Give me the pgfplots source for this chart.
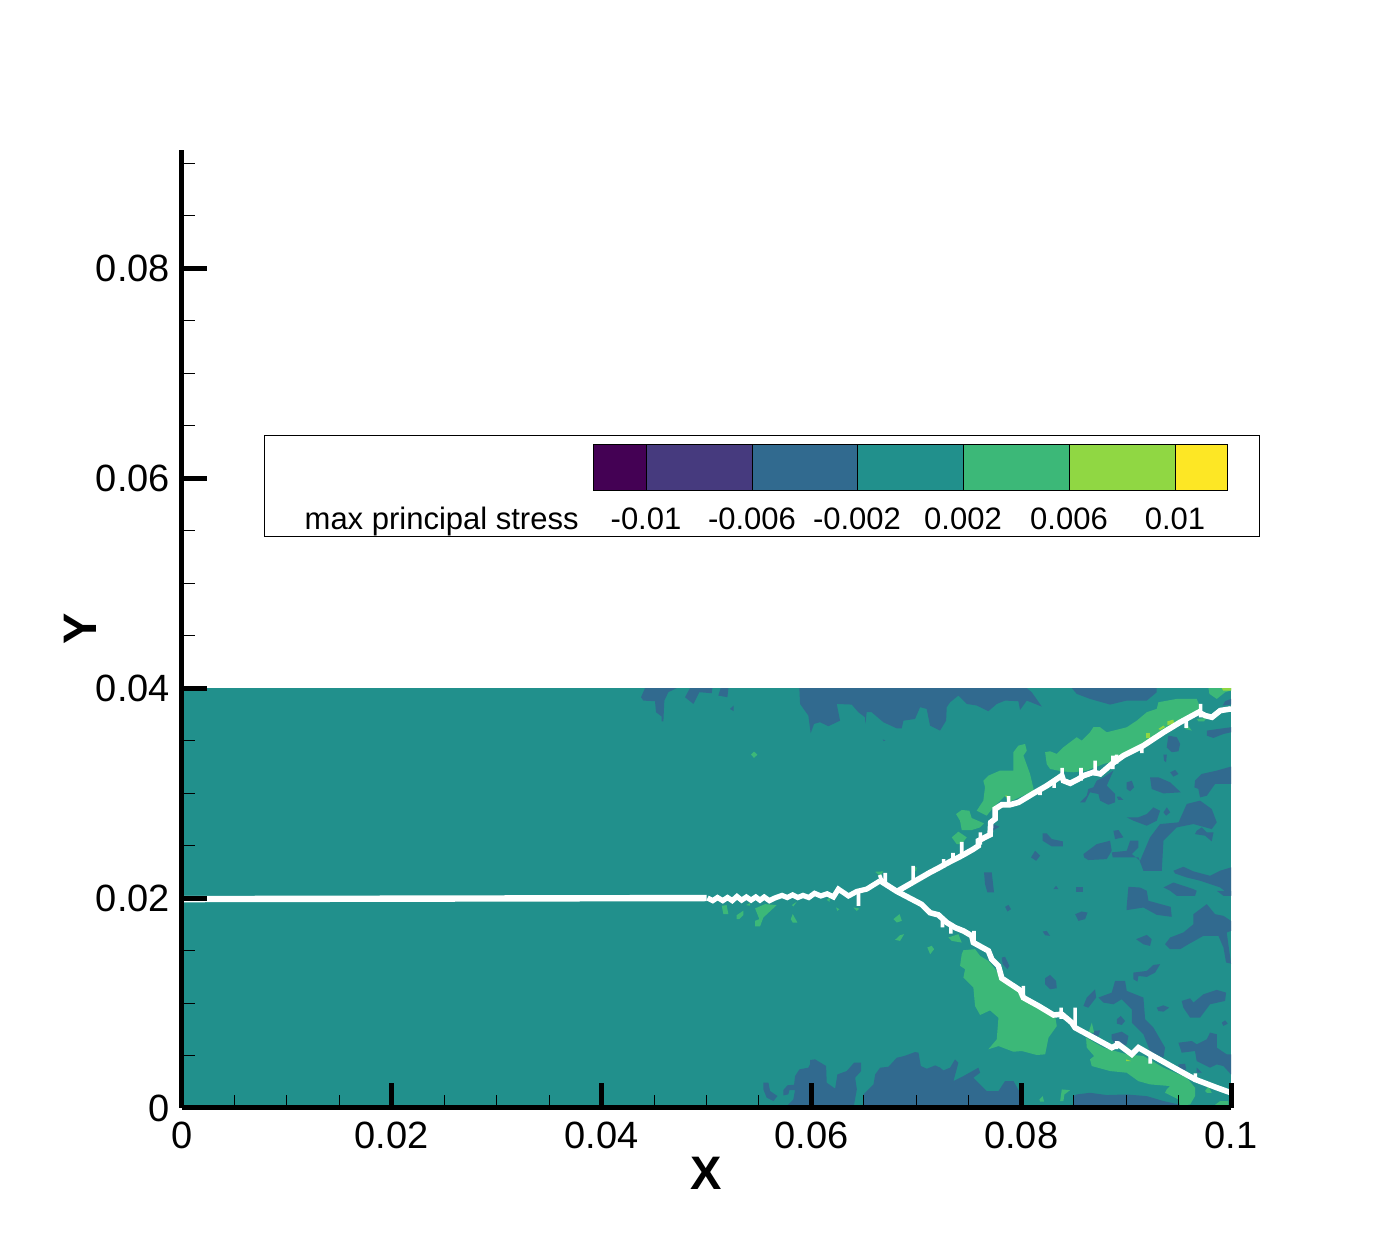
\documentclass[border=0pt]{standalone}
\usepackage{fontspec}
\setmainfont{Liberation Sans}
\usepackage{pgfplots}
\pgfplotsset{compat=1.18}
\definecolor{cPurple}{HTML}{440154}
\definecolor{cIndigo}{HTML}{463A7E}
\definecolor{cBlue}{HTML}{316A8F}
\definecolor{cTeal}{HTML}{21908C}
\definecolor{cGreen}{HTML}{3CB878}
\definecolor{cLime}{HTML}{90D743}
\definecolor{cYellow}{HTML}{FDE725}
\pgfplotsset{
  bl/.style={fill=cBlue,draw=none,forget plot},
  gr/.style={fill=cGreen,draw=none,forget plot},
  li/.style={fill=cLime,draw=none,forget plot},
}
\begin{document}
\begin{tikzpicture}
\path[use as bounding box] (-91pt,-68.5pt) rectangle (609pt,554pt);
\begin{axis}[
  at={(0,0)},anchor=south west,scale only axis,width=524.5pt,height=479pt,
  xmin=0,xmax=0.1,ymin=0,ymax=0.09126,
  axis x line*=bottom,axis y line*=left,
  axis line style={line width=2.5pt,-},
  axis on top,
  scaled ticks=false,
  xtick={0,0.02,0.04,0.06,0.08,0.1},xticklabels={0,0.02,0.04,0.06,0.08,0.1},
  ytick={0,0.02,0.04,0.06,0.08},yticklabels={0,0.02,0.04,0.06,0.08},
  minor xtick={0.005,0.01,0.015,0.025,0.03,0.035,0.045,0.05,0.055,0.065,0.07,0.075,0.085,0.09,0.095},
  minor ytick={0.005,0.01,0.015,0.025,0.03,0.035,0.045,0.05,0.055,0.065,0.07,0.075,0.085,0.09},
  tick align=inside,
  major tick length=12.5pt,minor tick length=6.5pt,
  major tick style={line width=2.5pt,black},
  minor tick style={line width=0.5pt,black},
  xticklabel style={font=\fontsize{19}{20}\selectfont,yshift=-3.5pt},
  yticklabel style={font=\fontsize{19}{20}\selectfont,xshift=-2.5pt},
  xlabel={X},ylabel={Y},
  xlabel style={font=\fontsize{23.5}{26}\bfseries\selectfont,yshift=3pt},
  ylabel style={font=\fontsize{23.5}{26}\bfseries\selectfont,yshift=-7pt},
  unbounded coords=jump,
]
% background field
\addplot[fill=cTeal,draw=none,forget plot] coordinates {(0,0)(0.1,0)(0.1,0.04)(0,0.04)};
% negative-stress patches, top edge
\addplot[bl] coordinates {(0.04414,0.04)(0.04376,0.03913)(0.04398,0.03881)(0.04509,0.03875)(0.04519,0.0377)(0.04573,0.03729)(0.04573,0.03684)(0.04589,0.03684)(0.04598,0.03881)(0.04636,0.03961)(0.04716,0.04)};
\addplot[bl] coordinates {(0.04843,0.04)(0.04795,0.03913)(0.04875,0.03849)(0.04932,0.03961)(0.0505,0.03951)(0.05056,0.04)};
\addplot[bl] coordinates {(0.05135,0.04)(0.05113,0.03929)(0.05199,0.03913)(0.05209,0.04)};
\addplot[bl] coordinates {(0.05224,0.03802)(0.05259,0.03834)(0.05259,0.0378)};
\addplot[bl] coordinates {(0.05885,0.04)(0.05892,0.03849)(0.05971,0.03738)(0.05993,0.0357)(0.06025,0.03659)(0.06082,0.03675)(0.06162,0.03637)(0.06273,0.0369)(0.06241,0.03849)(0.06384,0.03843)(0.06448,0.0377)(0.06511,0.03722)(0.06514,0.03659)(0.06527,0.0377)(0.06575,0.0377)(0.06686,0.03675)(0.06813,0.03617)(0.06861,0.03617)(0.06877,0.0369)(0.06988,0.03706)(0.07036,0.03818)(0.07099,0.03802)(0.07131,0.03643)(0.07226,0.03595)(0.07284,0.0369)(0.0729,0.03818)(0.07322,0.03865)(0.07401,0.03929)(0.07481,0.03849)(0.07576,0.03834)(0.07687,0.0378)(0.07767,0.03849)(0.07846,0.03881)(0.07973,0.03875)(0.07989,0.03792)(0.08053,0.03881)(0.08196,0.03824)(0.081,0.03961)(0.08053,0.04)};
\addplot[bl] coordinates {(0.0668,0.03510)(0.06705,0.03503)(0.0669,0.03495)};
\addplot[bl] coordinates {(0.08482,0.04)(0.08529,0.03945)(0.08656,0.03897)(0.08847,0.03843)(0.09006,0.03881)(0.09197,0.03881)(0.09292,0.03961)(0.09292,0.04)};
\addplot[bl] coordinates {(0.09921,0.03834)(0.09944,0.03875)(0.1,0.03897)(0.1,0.03843)};
% patches below the upper crack
\addplot[bl] coordinates {(0.07728,0.02705)(0.07792,0.0268)(0.07728,0.02641)};
\addplot[bl] coordinates {(0.08205,0.02616)(0.08243,0.02616)(0.08291,0.02562)(0.08396,0.0254)(0.08396,0.02492)(0.08291,0.02492)(0.08205,0.02546)};
\addplot[bl] coordinates {(0.08132,0.0245)(0.0818,0.02403)(0.08142,0.02355)(0.08094,0.02387)};
\addplot[bl] coordinates {(0.07646,0.02244)(0.07719,0.02244)(0.07741,0.02053)(0.07678,0.02053)(0.07655,0.02133)};
\addplot[bl] coordinates {(0.08307,0.02085)(0.08355,0.02085)(0.08332,0.02117)};
\addplot[bl] coordinates {(0.08523,0.02107)(0.08587,0.02107)(0.08587,0.02053)(0.08523,0.02053)};
\addplot[bl] coordinates {(0.08593,0.02419)(0.0872,0.02514)(0.08847,0.02546)(0.08863,0.0245)(0.08815,0.02371)(0.0864,0.02362)(0.086,0.02387)};
\addplot[bl] coordinates {(0.08863,0.02435)(0.09006,0.0245)(0.09038,0.02546)(0.09117,0.02546)(0.09117,0.02482)(0.09054,0.02419)(0.09133,0.02355)(0.09228,0.02578)(0.09324,0.02705)(0.095,0.02721)(0.09578,0.02896)(0.09705,0.02928)(0.09816,0.02848)(0.09864,0.02721)(0.09816,0.02657)(0.09642,0.02705)(0.09483,0.02673)(0.09356,0.02546)(0.0934,0.0226)(0.09165,0.0226)(0.09117,0.02387)(0.09038,0.02387)(0.08873,0.02387)};
\addplot[bl] coordinates {(0.09006,0.02769)(0.09117,0.02769)(0.09197,0.028)(0.0926,0.02864)(0.09324,0.02832)(0.09292,0.02737)(0.09197,0.02689)(0.0907,0.02737)};
\addplot[bl] coordinates {(0.09356,0.02816)(0.09388,0.02864)(0.0942,0.02816)(0.09381,0.02785)};
\addplot[bl] coordinates {(0.08879,0.02641)(0.08927,0.02648)(0.08974,0.02578)(0.08895,0.02562)};
\addplot[bl] coordinates {(0.09673,0.02641)(0.09721,0.02673)(0.09769,0.02625)(0.09833,0.02625)(0.09816,0.0254)(0.09753,0.02594)(0.09657,0.02609)};
\addplot[bl] coordinates {(0.09228,0.0315)(0.09308,0.0315)(0.0942,0.03102)(0.09521,0.03007)(0.09356,0.02997)(0.09244,0.03039)};
\addplot[bl] coordinates {(0.09006,0.03102)(0.09054,0.03118)(0.09076,0.03055)(0.09038,0.03017)(0.09006,0.03039)};
\addplot[bl] coordinates {(0.09657,0.03118)(0.09721,0.03182)(0.09864,0.03214)(0.1,0.03252)(0.1,0.03087)(0.09848,0.03087)(0.09769,0.02975)(0.09705,0.02959)(0.09689,0.03039)(0.09651,0.03055)};
\addplot[bl] coordinates {(0.0942,0.03198)(0.09467,0.0322)(0.09499,0.03182)(0.09451,0.03156)};
\addplot[bl] coordinates {(0.09769,0.03595)(0.0988,0.03611)(0.1,0.03627)(0.1,0.03579)(0.09928,0.03563)(0.09832,0.03525)(0.09769,0.03547)};
\addplot[bl] coordinates {(0.09403,0.03547)(0.09483,0.03532)(0.09515,0.03468)(0.09499,0.03398)(0.09435,0.03389)(0.09387,0.03436)};
\addplot[bl] coordinates {(0.09356,0.03366)(0.09388,0.03366)(0.09381,0.03293)(0.09362,0.03309)};
\addplot[bl] coordinates {(0.08688,0.03055)(0.0872,0.03118)(0.08784,0.0315)(0.08879,0.03214)(0.08815,0.03071)(0.08895,0.02991)(0.08895,0.02912)(0.08831,0.02889)(0.08752,0.02928)(0.08736,0.02991)(0.08656,0.03007)(0.08609,0.02912)(0.08561,0.02912)(0.08625,0.02975)(0.0864,0.03039)};
\addplot[bl] coordinates {(0.08911,0.02966)(0.08943,0.02966)(0.08974,0.02934)(0.08927,0.02934)};
\addplot[bl] coordinates {(0.09451,0.02260)(0.09546,0.02298)(0.09642,0.02254)(0.098,0.02212)(0.09896,0.0226)(0.1,0.02292)(0.1,0.02022)(0.09896,0.02101)(0.09705,0.02165)(0.09578,0.02196)(0.09467,0.02234)};
\addplot[bl] coordinates {(0.09022,0.02107)(0.09133,0.021)(0.09197,0.02069)(0.09213,0.01974)(0.09425,0.01916)(0.09435,0.01821)(0.09292,0.0184)(0.09165,0.0191)(0.09006,0.01885)(0.09006,0.01926)};
\addplot[bl] coordinates {(0.09356,0.02101)(0.09451,0.02148)(0.09642,0.02085)(0.09673,0.02069)(0.09657,0.02021)(0.09483,0.02021)(0.0942,0.02069)};
\addplot[bl] coordinates {(0.09864,0.02069)(0.09928,0.02021)(0.1,0.02021)(0.1,0.02069)};
% patches above the lower crack
\addplot[bl] coordinates {(0.09371,0.0156)(0.0942,0.01624)(0.09546,0.01672)(0.09642,0.01751)(0.09642,0.01846)(0.09769,0.01942)(0.09848,0.01846)(0.09928,0.0183)(0.1,0.01783)(0.1,0.01687)(0.09959,0.01672)(0.1,0.01376)(0.09953,0.01386)(0.09928,0.01529)(0.0988,0.0164)(0.09737,0.0164)(0.09594,0.0156)(0.09515,0.01513)(0.0942,0.01513)};
\addplot[bl] coordinates {(0.08514,0.01846)(0.08577,0.01872)(0.08632,0.01862)(0.08609,0.01799)(0.08546,0.01783)};
\addplot[bl] coordinates {(0.07846,0.01916)(0.07878,0.01935)(0.07903,0.01894)(0.07869,0.01872)};
\addplot[bl] coordinates {(0.08205,0.01681)(0.08243,0.01687)(0.08275,0.0164)(0.08228,0.01646)};
\addplot[bl] coordinates {(0.09095,0.01608)(0.09197,0.01649)(0.09244,0.01608)(0.09228,0.01544)(0.09165,0.0156)};
\addplot[bl] coordinates {(0.07814,0.01433)(0.07846,0.0144)(0.07887,0.01354)(0.07869,0.01322)(0.07824,0.0137)};
\addplot[bl] coordinates {(0.08228,0.01236)(0.08275,0.01268)(0.08332,0.01211)(0.08339,0.01141)(0.08275,0.01131)(0.08228,0.01179)};
\addplot[bl] coordinates {(0.0907,0.0129)(0.09197,0.01306)(0.0926,0.01363)(0.09324,0.0137)(0.09276,0.0129)(0.09197,0.01249)(0.09117,0.01258)(0.09108,0.01204)(0.0907,0.01227)};
\addplot[bl] coordinates {(0.08736,0.01052)(0.08863,0.01099)(0.08895,0.01211)(0.0899,0.01211)(0.09006,0.01115)(0.09165,0.01052)(0.09181,0.00845)(0.0926,0.00766)(0.09371,0.00575)(0.09356,0.00479)(0.09228,0.00543)(0.09165,0.00702)(0.09054,0.00813)(0.09054,0.0094)(0.08958,0.01036)(0.08879,0.00988)(0.08784,0.01004)};
\addplot[bl] coordinates {(0.08625,0.01052)(0.08704,0.01131)(0.08714,0.01052)(0.0864,0.00956)(0.08593,0.00972)};
\addplot[bl] coordinates {(0.09292,0.00956)(0.09356,0.00978)(0.0941,0.00956)(0.09356,0.00918)(0.09308,0.00924)};
\addplot[bl] coordinates {(0.0953,0.0102)(0.0961,0.01045)(0.09642,0.01004)(0.09737,0.01083)(0.09864,0.01125)(0.09953,0.01099)(0.09943,0.0102)(0.098,0.00988)(0.09705,0.00861)(0.0961,0.00861)(0.09546,0.00956)};
\addplot[bl] coordinates {(0.08911,0.00845)(0.08949,0.00877)(0.0899,0.00829)(0.08958,0.00791)(0.08911,0.00804)};
\addplot[bl] coordinates {(0.09912,0.00813)(0.09944,0.00835)(0.09969,0.00804)(0.09928,0.00782)};
\addplot[bl] coordinates {(0.08863,0.00702)(0.08958,0.00727)(0.09022,0.00686)(0.09006,0.00607)(0.08927,0.00575)(0.08895,0.00613)(0.08863,0.00654)};
\addplot[bl] coordinates {(0.09499,0.00622)(0.09626,0.00638)(0.09673,0.00607)(0.09769,0.00654)(0.098,0.00718)(0.09864,0.00702)(0.09864,0.00575)(0.09959,0.00511)(0.1,0.00511)(0.1,0.0032)(0.09928,0.00399)(0.09864,0.00415)(0.098,0.00384)(0.09673,0.00447)(0.09657,0.00543)(0.0953,0.00527)};
\addplot[bl] coordinates {(0.09499,0.00415)(0.09562,0.00422)(0.09573,0.00368)(0.09515,0.00352)};
\addplot[bl] coordinates {(0.09673,0.00384)(0.09721,0.00336)(0.09673,0.00336)};
\addplot[bl] coordinates {(0.08688,0.00734)(0.08752,0.0074)(0.08736,0.00686)(0.08688,0.00696)};
% bottom edge
\addplot[bl] coordinates {(0.08498,0.00)(0.08498,0.00113)(0.08529,0.00129)(0.08656,0.00145)(0.08815,0.00123)(0.09006,0.00129)(0.09197,0.00113)(0.09356,0.00066)(0.09499,0.00034)(0.09515,0)};
\addplot[bl] coordinates {(0.06496,0)(0.06496,0.0013)(0.06592,0.00225)(0.06608,0.0032)(0.06655,0.00384)(0.06735,0.00393)(0.06814,0.00479)(0.06884,0.00495)(0.06989,0.00533)(0.07021,0.00527)(0.07043,0.004)(0.071,0.00374)(0.0718,0.00406)(0.07228,0.00384)(0.07258,0.00358)(0.07322,0.00384)(0.07369,0.00463)(0.07401,0.00431)(0.07354,0.00256)(0.07449,0.00304)(0.07592,0.00384)(0.07608,0.00336)(0.07544,0.00288)(0.07671,0.00161)(0.07783,0.00161)(0.07846,0.00256)(0.07926,0.00256)(0.07989,0.00145)(0.07983,0)};
\addplot[bl] coordinates {(0.05749,0)(0.05828,0.00082)(0.05844,0.00171)(0.0579,0.00171)(0.0578,0.0013)(0.05733,0.0012)(0.05733,0.00171)(0.05771,0.00216)(0.05835,0.00222)(0.05844,0.00304)(0.05886,0.00368)(0.05971,0.00384)(0.05987,0.00416)(0.05987,0.00457)(0.06035,0.00463)(0.0614,0.004)(0.06146,0.00241)(0.06226,0.00184)(0.06248,0.0032)(0.06337,0.00352)(0.06407,0.00432)(0.06474,0.00432)(0.06474,0.00352)(0.06417,0.00289)(0.06433,0.00178)(0.06401,0)};
\addplot[bl] coordinates {(0.05542,0.00241)(0.0559,0.00241)(0.05606,0.00162)(0.05676,0.00114)(0.05638,0.00066)(0.05574,0.00098)(0.05542,0.00178)};
% positive-stress patches
\addplot[gr] coordinates {(0.09785,0.04)(0.09794,0.03945)(0.09864,0.03897)(0.09944,0.03961)(0.1,0.03977)(0.1,0.04)};
\addplot[gr] coordinates {(0.08228,0.03389)(0.08275,0.03398)(0.08339,0.03373)(0.08402,0.03436)(0.08529,0.03532)(0.08577,0.035)(0.08656,0.03579)(0.08688,0.03627)(0.08752,0.03627)(0.08815,0.03579)(0.09006,0.03627)(0.09102,0.0369)(0.09197,0.0377)(0.09292,0.03802)(0.09308,0.03865)(0.09483,0.03897)(0.09673,0.03897)(0.09705,0.03818)(0.09683,0.0378)(0.09356,0.03563)(0.09102,0.0342)(0.08911,0.03309)(0.08784,0.03277)(0.08625,0.03214)(0.08498,0.03198)(0.08386,0.03207)(0.08275,0.0323)(0.08243,0.03277)};
\addplot[gr] coordinates {(0.09562,0.03611)(0.09578,0.03659)(0.09626,0.03595)};
\addplot[gr] coordinates {(0.09673,0.03706)(0.09769,0.03716)(0.09743,0.03684)(0.09689,0.03684)};
\addplot[gr] coordinates {(0.07926,0.03389)(0.07973,0.03452)(0.08037,0.03468)(0.08053,0.03404)(0.08021,0.03357)(0.08084,0.03182)(0.08122,0.03023)(0.08053,0.02991)(0.07878,0.02912)(0.07846,0.02975)(0.07735,0.02864)(0.07671,0.02785)(0.07576,0.02832)(0.07639,0.02928)(0.07655,0.03055)(0.07639,0.03118)(0.07687,0.03166)(0.07798,0.03214)(0.07926,0.03214)};
\addplot[gr] coordinates {(0.07379,0.028)(0.07433,0.02839)(0.07506,0.02832)(0.07528,0.02762)(0.07646,0.02711)(0.07608,0.02673)(0.07528,0.02648)(0.07433,0.02648)(0.07417,0.02737)};
\addplot[gr] coordinates {(0.07338,0.02578)(0.07401,0.02632)(0.07481,0.02578)(0.07433,0.02514)(0.07385,0.02514)};
\addplot[gr] coordinates {(0.07449,0.01503)(0.0756,0.01513)(0.07608,0.01449)(0.07687,0.01401)(0.07735,0.01344)(0.07837,0.01211)(0.07989,0.01115)(0.08021,0.01052)(0.08323,0.00877)(0.08339,0.00781)(0.0826,0.0067)(0.08228,0.00511)(0.08148,0.00505)(0.08005,0.00543)(0.07926,0.00536)(0.07783,0.0059)(0.07687,0.00559)(0.07767,0.00654)(0.07783,0.0086)(0.07703,0.0093)(0.07608,0.00886)(0.0756,0.00972)(0.07544,0.01147)(0.07449,0.01242)(0.07465,0.01322)(0.07417,0.01354)(0.07433,0.01465)};
\addplot[gr] coordinates {(0.08618,0.0067)(0.08784,0.00575)(0.09006,0.00511)(0.09165,0.00495)(0.09356,0.00384)(0.09578,0.00288)(0.09657,0.00193)(0.09657,0.00113)(0.0961,0.00034)(0.09515,0.00018)(0.09499,0.00082)(0.09371,0.00145)(0.09387,0.00177)(0.0942,0.00209)(0.09228,0.00225)(0.09117,0.00256)(0.09006,0.00336)(0.08847,0.00352)(0.08672,0.004)(0.08656,0.00463)(0.08695,0.00495)(0.08625,0.00575)};
\addplot[gr] coordinates {(0.08641,0.00718)(0.08673,0.00813)(0.08695,0.00718)};
\addplot[gr] coordinates {(0.09753,0.00161)(0.09784,0.00209)(0.09816,0.00145)(0.09769,0.00145)};
\addplot[gr] coordinates {(0.09832,0.00018)(0.09896,0.00066)(0.09975,0.00066)(0.09975,0.00018)};
\addplot[gr] coordinates {(0.08371,0.00066)(0.08387,0.00177)(0.08466,0.0017)(0.08412,0.00129)(0.08402,0.00066)};
\addplot[gr] coordinates {(0.08174,0.00082)(0.08205,0.00113)(0.08218,0.0006)(0.0818,0.0006)};
\addplot[gr] coordinates {(0.07306,0.01624)(0.07401,0.01656)(0.07433,0.01576)(0.07338,0.01592)};
\addplot[gr] coordinates {(0.07131,0.01528)(0.07169,0.01513)(0.07131,0.01471)};
\addplot[gr] coordinates {(0.05463,0.01901)(0.05558,0.01942)(0.05669,0.01933)(0.05542,0.01815)(0.0551,0.01729)(0.05463,0.01729)(0.05463,0.01783)(0.05504,0.01799)};
\addplot[gr] coordinates {(0.05145,0.01926)(0.05192,0.01933)(0.05208,0.01847)(0.05161,0.01847)};
\addplot[gr] coordinates {(0.05288,0.01837)(0.05351,0.01879)(0.05351,0.01837)(0.05313,0.01799)(0.05288,0.01799)};
\addplot[gr] coordinates {(0.05803,0.01799)(0.05822,0.01847)(0.05866,0.01767)(0.05822,0.01767)};
\addplot[gr] coordinates {(0.05813,0.01933)(0.0586,0.01964)(0.05828,0.0192)};
\addplot[gr] coordinates {(0.06782,0.01799)(0.0684,0.01847)(0.06862,0.01783)(0.06814,0.01767)};
\addplot[gr] coordinates {(0.06798,0.01602)(0.06845,0.01646)(0.06884,0.01656)(0.06845,0.01592)};
\addplot[gr] coordinates {(0.07105,0.01529)(0.07147,0.01545)(0.07169,0.01513)(0.07132,0.01465)};
\addplot[gr] coordinates {(0.06235,0.0191)(0.06267,0.01894)(0.06248,0.01878)};
\addplot[gr] coordinates {(0.064,0.0191)(0.06458,0.019)(0.06433,0.01878)};
\addplot[gr] coordinates {(0.06146,0.01983)(0.06178,0.02006)(0.06172,0.01964)};
\addplot[gr] coordinates {(0.05377,0.01933)(0.05415,0.01952)(0.05415,0.01927)};
\addplot[gr] coordinates {(0.05425,0.03366)(0.05453,0.03395)(0.05485,0.03366)(0.05453,0.03335)};
\addplot[gr] coordinates {(0.06607,0.0225)(0.06686,0.02254)(0.06655,0.02212)};
\addplot[gr] coordinates {(0.06972,0.02298)(0.07004,0.02292)(0.06998,0.02254)(0.06972,0.02260)};
% highest-stress specks
\addplot[li] coordinates {(0.09912,0.04)(0.09924,0.03977)(0.1,0.03977)(0.1,0.04)};
\addplot[li] coordinates {(0.0919,0.03573)(0.09229,0.03573)(0.09229,0.03525)(0.0919,0.03525)};
\addplot[li] coordinates {(0.09308,0.03611)(0.09356,0.03643)(0.09372,0.03627)(0.09324,0.03602)};
\addplot[li] coordinates {(0.09394,0.03684)(0.09451,0.037)(0.09457,0.03659)(0.09394,0.03649)};
\addplot[li] coordinates {(0.07846,0.02975)(0.07868,0.02975)(0.07862,0.02959)};
\addplot[li] coordinates {(0.09,0.00463)(0.09048,0.00447)(0.09,0.00447)};
% crack, left part and the two branches
\addplot[white,line width=3.2pt,forget plot] coordinates {(0,0.0199)(0.05,0.02)};
\addplot[white,line width=2.6pt,line join=miter,forget plot] coordinates {
(0.0501,0.02)(0.0506,0.01975)(0.05105,0.02005)(0.05155,0.01975)(0.052,0.02005)(0.05245,0.01975)(0.0529,0.02015)(0.05335,0.0198)(0.0538,0.0201)(0.05425,0.0198)(0.0547,0.0201)(0.0551,0.0198)(0.0555,0.0201)(0.056,0.01975)(0.0565,0.02)(0.0572,0.02025)(0.0577,0.02005)(0.0582,0.0203)(0.0587,0.02005)(0.0592,0.02025)(0.05975,0.02005)(0.0603,0.02045)(0.0609,0.0202)(0.0615,0.0204)(0.0621,0.0201)(0.06257,0.02085)(0.06353,0.0202)(0.06433,0.02063)(0.06527,0.02085)(0.0664,0.02155)(0.06656,0.02164)};
\addplot[white,line width=2.8pt,forget plot] coordinates {(0.06656,0.02164)(0.06815,0.02063)(0.0705,0.0194)(0.07131,0.0186)(0.0721,0.0184)(0.0729,0.01767)(0.07369,0.01719)(0.07449,0.01687)(0.07529,0.0164)(0.07544,0.01576)(0.07687,0.01497)(0.07719,0.01417)(0.07783,0.01353)(0.07815,0.01236)(0.0799,0.01121)(0.08021,0.01051)(0.08165,0.00972)(0.08308,0.00886)(0.08387,0.00893)(0.08482,0.00813)(0.08514,0.00765)(0.08689,0.0067)(0.08864,0.00575)(0.08928,0.00606)(0.09055,0.00511)(0.09118,0.00575)(0.0923,0.00511)(0.09484,0.00368)(0.09659,0.00272)(0.09866,0.00193)(0.1,0.00145)};
\addplot[white,line width=2.8pt,forget plot] coordinates {(0.06815,0.02063)(0.0695,0.0214)(0.07131,0.02244)(0.0721,0.02285)(0.0729,0.0233)(0.07433,0.02403)(0.07544,0.02466)(0.07592,0.02498)(0.07592,0.02546)(0.07703,0.02603)(0.0771,0.02721)(0.07751,0.02753)(0.07751,0.02848)(0.07815,0.02889)(0.07894,0.02889)(0.07974,0.02911)(0.08117,0.02997)(0.08244,0.0307)(0.08387,0.03166)(0.08403,0.03118)(0.08467,0.03093)(0.08546,0.03134)(0.08594,0.03166)(0.08689,0.03198)(0.08753,0.03182)(0.08864,0.03277)(0.08975,0.03357)(0.09166,0.03453)(0.09357,0.03579)(0.09516,0.03675)(0.09691,0.0377)(0.09755,0.03738)(0.09818,0.03722)(0.09898,0.03786)(0.1,0.03802)};
% short side branches of the crack
\addplot[white,line width=1.8pt,forget plot] coordinates {
(0.06449,0.0206)(0.06449,0.01925)(nan,nan)
(0.06704,0.0224)(0.06704,0.0215)(nan,nan)
(0.0665,0.0222)(0.0668,0.0214)(nan,nan)
(0.06969,0.02307)(0.06969,0.0215)(nan,nan)
(0.0726,0.0237)(0.0726,0.0229)(nan,nan)
(0.0735,0.0243)(0.0735,0.0235)(nan,nan)
(0.07433,0.02536)(0.07433,0.02403)(nan,nan)
(0.0761,0.02625)(0.0761,0.0251)(nan,nan)
(0.0788,0.0297)(0.0788,0.0289)(nan,nan)
(0.08390,0.03239)(0.08390,0.0315)(nan,nan)
(0.0857,0.03239)(0.0857,0.03118)(nan,nan)
(0.08705,0.03309)(0.08705,0.03166)(nan,nan)
(0.08874,0.03357)(0.08874,0.03229)(nan,nan)
(0.0891,0.03366)(0.0891,0.0328)(nan,nan)
(0.08179,0.0304)(0.08179,0.0298)(nan,nan)
(0.08314,0.0312)(0.08314,0.0305)(nan,nan)
(0.0915,0.0345)(0.0915,0.0338)(nan,nan)
(0.09573,0.0371)(0.09573,0.0362)(nan,nan)
(0.0971,0.0385)(0.0971,0.0372)(nan,nan)
(0.0802,0.01163)(0.0802,0.0105)(nan,nan)
(0.0755,0.01687)(0.0755,0.01576)(nan,nan)
(0.08514,0.00956)(0.08514,0.00765)(nan,nan)
(0.0838,0.00956)(0.0838,0.0085)(nan,nan)
(0.0891,0.00636)(0.0891,0.0056)(nan,nan)
(0.0923,0.00511)(0.0923,0.00422)(nan,nan)
(0.0733,0.0176)(0.0733,0.0166)(nan,nan)
(0.0725,0.0178)(0.0725,0.0172)(nan,nan)
(0.0966,0.0033)(0.0966,0.0025)
};
\end{axis}
% colour legend
\fill[white] (41pt,285.5pt) rectangle (538.5pt,336pt);
\draw[line width=0.5pt,black] (41pt,285.5pt) rectangle (538.5pt,336pt);
\fill[cPurple] (205.5pt,308.5pt) rectangle (232pt,331.5pt);
\fill[cIndigo] (232pt,308.5pt) rectangle (285pt,331.5pt);
\fill[cBlue] (285pt,308.5pt) rectangle (337.5pt,331.5pt);
\fill[cTeal] (337.5pt,308.5pt) rectangle (390.5pt,331.5pt);
\fill[cGreen] (390.5pt,308.5pt) rectangle (443.5pt,331.5pt);
\fill[cLime] (443.5pt,308.5pt) rectangle (496.5pt,331.5pt);
\fill[cYellow] (496.5pt,308.5pt) rectangle (522.5pt,331.5pt);
\draw[line width=0.5pt,black] (205.5pt,308.5pt) rectangle (522.5pt,331.5pt);
\foreach \x in {232,285,337.5,390.5,443.5,496.5} \draw[line width=0.5pt,black] (\x pt,308.5pt) -- (\x pt,331.5pt);
\foreach \x/\t in {232/-0.01,285/-0.006,337.5/-0.002,390.5/0.002,443.5/0.006,496.5/0.01}
  \node[font=\fontsize{15.5}{17}\selectfont,anchor=base,inner sep=0pt] at (\x pt,289pt) {\t};
\node[font=\fontsize{15.5}{17}\selectfont,anchor=base east,inner sep=0pt] at (198.5pt,289pt) {max principal stress};
\end{tikzpicture}
\end{document}
